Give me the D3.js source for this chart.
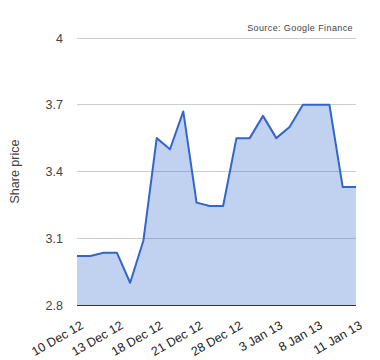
<!DOCTYPE html>
<html><head><meta charset="utf-8">
<script src="https://cdn.jsdelivr.net/npm/d3@7"></script>
<style>body{margin:0;background:#fff}svg{display:block;font-family:Arial,"Liberation Sans",sans-serif}</style>
</head><body><div id="chart"></div>
<script>
const dates = ["10 Dec 12","11 Dec 12","12 Dec 12","13 Dec 12","14 Dec 12","17 Dec 12","18 Dec 12","19 Dec 12","20 Dec 12","21 Dec 12","24 Dec 12","27 Dec 12","28 Dec 12","31 Dec 12","2 Jan 13","3 Jan 13","4 Jan 13","7 Jan 13","8 Jan 13","9 Jan 13","10 Jan 13","11 Jan 13"];
const prices = [3.02,3.02,3.035,3.035,2.90,3.09,3.55,3.50,3.67,3.26,3.245,3.245,3.55,3.55,3.65,3.55,3.60,3.70,3.70,3.70,3.33,3.33];
const yTicks = [2.8,3.1,3.4,3.7,4];
const xTickLabels = ["10 Dec 12","13 Dec 12","18 Dec 12","21 Dec 12","28 Dec 12","3 Jan 13","8 Jan 13","11 Jan 13"];

const W=380,H=360, L=77, R=356, T=38, B=305;
const FONT='Arial,"Liberation Sans",sans-serif';
const svg=d3.select("#chart").append("svg").attr("width",W).attr("height",H);
const x=d3.scalePoint().domain(dates).range([L,R]);
const y=d3.scaleLinear().domain([2.8,4]).range([B,T]);

svg.append("g").selectAll("line").data(yTicks.slice(1)).join("line")
  .attr("x1",L).attr("x2",R).attr("y1",d=>y(d)).attr("y2",d=>y(d))
  .attr("stroke","#cccccc").attr("stroke-width",1).attr("shape-rendering","crispEdges");

const data=dates.map((d,i)=>({d,v:prices[i]}));
svg.append("path").datum(data)
  .attr("d",d3.area().x(p=>x(p.d)).y0(y(2.8)).y1(p=>y(p.v)))
  .attr("fill","#3366cc").attr("fill-opacity",0.3);
svg.append("path").datum(data)
  .attr("d",d3.line().x(p=>x(p.d)).y(p=>y(p.v)))
  .attr("fill","none").attr("stroke","#3366cc").attr("stroke-width",2).attr("stroke-linejoin","round");

svg.append("line").attr("x1",L).attr("x2",R).attr("y1",y(2.8)).attr("y2",y(2.8))
  .attr("stroke","#333").attr("stroke-width",1).attr("shape-rendering","crispEdges");

const yAxis=d3.axisLeft(y).tickValues(yTicks).tickSize(0).tickPadding(0).tickFormat(d3.format(""));
const ya=svg.append("g").attr("transform",`translate(${L-14},0)`).call(yAxis);
ya.select(".domain").remove();
ya.selectAll("text").attr("font-size",12.5).attr("fill","#444").attr("font-family",FONT);

const xAxis=d3.axisBottom(x).tickValues(xTickLabels).tickSize(0).tickPadding(0);
const xa=svg.append("g").attr("transform",`translate(0,${B})`).call(xAxis);
xa.select(".domain").remove();
xa.selectAll("text").attr("font-size",12.5).attr("fill","#222").attr("font-family",FONT)
  .attr("text-anchor","end").attr("dy",null).attr("y",0)
  .attr("transform","translate(5,20) rotate(-30)").attr("dominant-baseline","middle");

svg.append("text").attr("transform",`translate(19,${(T+B)/2}) rotate(-90)`)
  .attr("text-anchor","middle").attr("font-size",12.5).attr("fill","#444").attr("font-family",FONT).text("Share price");

svg.append("text").attr("x",353).attr("y",31).attr("text-anchor","end")
  .attr("font-size",9).attr("letter-spacing",0.4).attr("fill","#444").attr("font-family",FONT).text("Source: Google Finance");
</script></body></html>
